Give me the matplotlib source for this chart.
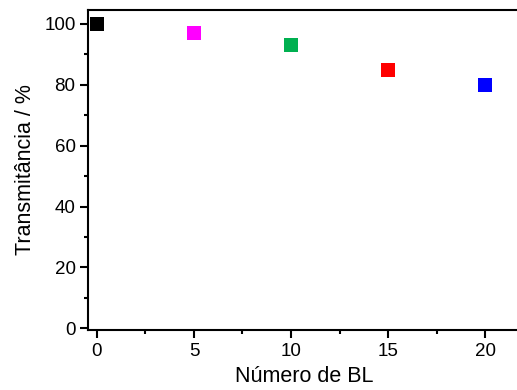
import matplotlib
matplotlib.use("Agg")
import matplotlib.pyplot as plt
from matplotlib.ticker import MultipleLocator

plt.rcParams["font.family"] = ["Liberation Sans", "DejaVu Sans"]

# Datos
numero_bl = [0, 5, 10, 15, 20]
transmitancia = [100, 97, 93, 85, 80]
colores = ["#000000", "#ff00ff", "#00b050", "#ff0000", "#0000ff"]

fig = plt.figure(figsize=(5.17, 3.9), dpi=100)
# el eje derecho queda justo fuera de la imagen, como en el original
ax = fig.add_axes([88 / 517, 60 / 390, 433 / 517, 320 / 390])

for x, y, c in zip(numero_bl, transmitancia, colores):
    ax.scatter(x, y, marker="s", s=95, color=c, zorder=3, linewidths=0)

ax.set_xlim(-0.46, 21.85)
ax.set_ylim(-0.6, 104.6)
ax.xaxis.set_major_locator(MultipleLocator(5))
ax.xaxis.set_minor_locator(MultipleLocator(2.5))
ax.yaxis.set_major_locator(MultipleLocator(20))
ax.yaxis.set_minor_locator(MultipleLocator(10))

for s in ax.spines.values():
    s.set_linewidth(1.5)
ax.tick_params(which="major", direction="out", length=6, width=1.5, labelsize=13.5, pad=3)
ax.tick_params(which="minor", direction="out", length=3, width=1.5)

ax.set_xlabel("Número de BL", fontsize=15.5, labelpad=5)
ax.set_ylabel("Transmitância / %", fontsize=15.5, labelpad=6)

plt.savefig("out.png", dpi=100)
plt.close()
